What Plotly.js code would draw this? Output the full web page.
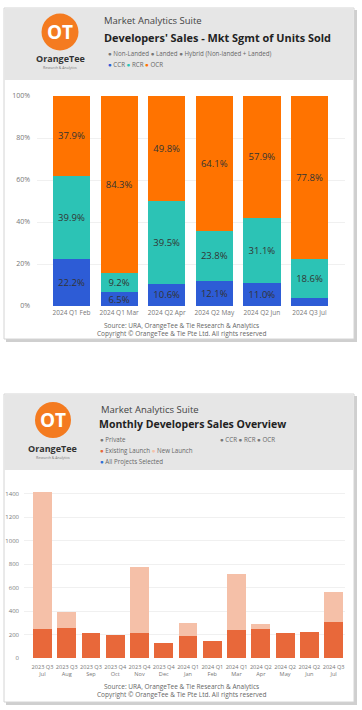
<!DOCTYPE html>
<html><head><meta charset="utf-8">
<script src="https://cdn.plot.ly/plotly-3.0.1.min.js"></script>
<style>html,body{margin:0;padding:0;background:#fff;}#chart{width:362px;height:710px;}</style>
</head><body><div id="chart"></div>
<script>
// ---- Top chart data ----
const topCategories = ['2024 Q1 Feb','2024 Q1 Mar','2024 Q2 Apr','2024 Q2 May','2024 Q2 Jun','2024 Q3 Jul'];
const ccrShare = [22.2, 6.5, 10.6, 12.1, 11.0, 3.6];
const rcrShare = [39.9, 9.2, 39.5, 23.8, 31.1, 18.6];
const ocrShare = [37.9, 84.3, 49.8, 64.1, 57.9, 77.8];
const topYTicks = [0, 20, 40, 60, 80, 100];
const topYTickLabels = ['0%','20%','40%','60%','80%','100%'];

// ---- Bottom chart data ----
const monthCategories = ['2023 Q3<br>Jul','2023 Q3<br>Aug','2023 Q3<br>Sep','2023 Q4<br>Oct','2023 Q4<br>Nov','2023 Q4<br>Dec','2024 Q1<br>Jan','2024 Q1<br>Feb','2024 Q1<br>Mar','2024 Q2<br>Apr','2024 Q2<br>May','2024 Q2<br>Jun','2024 Q3<br>Jul'];
const existingLaunch = [248, 255, 211, 200, 211, 131, 188, 148, 239, 248, 213, 222, 310];
const newLaunch = [1164, 135, 0, 0, 569, 0, 108, 0, 476, 45, 0, 0, 256];
const bottomYTicks = [0, 200, 400, 600, 800, 1000, 1200, 1400];

const W = 362, H = 710;
const X = p => p / W;
const Y = p => 1 - p / H;

const C_CCR = '#2D5CD6', C_RCR = '#2CC3B5', C_OCR = '#FF7300';
const C_EX = '#E8683A', C_NEW = '#F5C0A8';
const FONT = '"Open Sans", "Noto Sans", sans-serif';

const lbl = arr => arr.map(v => v >= 5 ? v.toFixed(1) + '%' : '');

function segTrace(vals, name, color) {
  return {
    type: 'bar', x: topCategories, y: vals, name: name,
    marker: {color: color, line: {width: 0}},
    text: lbl(vals), textposition: 'inside', insidetextanchor: 'middle',
    constraintext: 'none', textangle: 0,
    textfont: {family: FONT, size: 9.5, color: '#333333'},
    hoverinfo: 'skip', xaxis: 'x', yaxis: 'y', showlegend: false
  };
}

const traces = [
  segTrace(ccrShare, 'CCR', C_CCR),
  segTrace(rcrShare, 'RCR', C_RCR),
  segTrace(ocrShare, 'OCR', C_OCR),
  {type: 'bar', x: monthCategories, y: existingLaunch, name: 'Existing Launch',
   marker: {color: C_EX}, xaxis: 'x2', yaxis: 'y2', showlegend: false, hoverinfo: 'skip'},
  {type: 'bar', x: monthCategories, y: newLaunch, name: 'New Launch',
   marker: {color: C_NEW}, xaxis: 'x2', yaxis: 'y2', showlegend: false, hoverinfo: 'skip'}
];

function card(top, bottom, headerBottom) {
  return [
    {type: 'rect', xref: 'paper', yref: 'paper', layer: 'below',
     x0: X(6), x1: X(357), y0: Y(bottom + 3), y1: Y(top + 2),
     fillcolor: '#cfcfcf', line: {width: 0}},
    {type: 'rect', xref: 'paper', yref: 'paper', layer: 'below',
     x0: X(4), x1: X(354), y0: Y(bottom), y1: Y(top),
     fillcolor: '#ffffff', line: {color: '#d4d4d4', width: 1}},
    {type: 'rect', xref: 'paper', yref: 'paper', layer: 'below',
     x0: X(4.5), x1: X(353.5), y0: Y(headerBottom), y1: Y(top + 0.5),
     fillcolor: '#e6e6e6', line: {width: 0}}
  ];
}
function logoCircle(cx, cy, r) {
  return {type: 'circle', xref: 'paper', yref: 'paper', layer: 'below',
    x0: X(cx - r), x1: X(cx + r), y0: Y(cy + r), y1: Y(cy - r),
    fillcolor: '#F47B20', line: {width: 0}};
}

const shapes = [
  ...card(8, 339, 80),
  logoCircle(60, 32, 18.5),
  ...card(394, 702, 470),
  logoCircle(53, 420, 18)
];

function ann(x, y, text, size, color, opts) {
  return Object.assign({xref: 'paper', yref: 'paper', x: X(x), y: Y(y), text: text,
    showarrow: false, xanchor: 'left', yanchor: 'middle',
    font: {family: FONT, size: size, color: color}}, opts || {});
}
const dot = c => '<span style="color:' + c + '">●</span> ';

const annotations = [
  // top header
  ann(60, 32, '<b>OT</b>', 19, '#ffffff', {xanchor: 'center'}),
  ann(60, 58, '<b>OrangeTee</b>', 9, '#333333', {xanchor: 'center'}),
  ann(60, 67.5, 'Research & Analytics', 3.5, '#777777', {xanchor: 'center'}),
  ann(102, 21, 'Market Analytics Suite', 9.5, '#444444'),
  ann(102, 37, '<b>Developers\' Sales - Mkt Sgmt of Units Sold</b>', 10.9, '#222222'),
  ann(106, 53, dot('#777') + 'Non-Landed ' + dot('#777') + 'Landed ' + dot('#777') + 'Hybrid (Non-landed + Landed)', 6.2, '#666666'),
  ann(106, 65, dot(C_CCR) + 'CCR ' + dot(C_RCR) + 'RCR ' + dot(C_OCR) + 'OCR', 6.2, '#666666'),
  // top footer
  ann(181, 325, 'Source: URA, OrangeTee & Tie Research & Analytics', 6.5, '#666666', {xanchor: 'center'}),
  ann(181, 333, 'Copyright © OrangeTee & Tie Pte Ltd. All rights reserved', 6.5, '#666666', {xanchor: 'center'}),
  // bottom header
  ann(53, 420, '<b>OT</b>', 19, '#ffffff', {xanchor: 'center'}),
  ann(53, 448, '<b>OrangeTee</b>', 9, '#333333', {xanchor: 'center'}),
  ann(53, 457.5, 'Research & Analytics', 3.5, '#777777', {xanchor: 'center'}),
  ann(99, 409, 'Market Analytics Suite', 9.5, '#444444'),
  ann(97, 424, '<b>Monthly Developers Sales Overview</b>', 10.5, '#222222'),
  ann(98, 440, dot('#777') + 'Private', 6.2, '#666666'),
  ann(218, 440, dot('#777') + 'CCR ' + dot('#777') + 'RCR ' + dot('#777') + 'OCR', 6.2, '#666666'),
  ann(98, 450, dot(C_EX) + 'Existing Launch ' + dot(C_NEW) + 'New Launch', 6.2, '#666666'),
  ann(98, 461, dot('#2D6FD6') + 'All Projects Selected', 6.2, '#666666'),
  // bottom footer
  ann(181, 686, 'Source: URA, OrangeTee & Tie Research & Analytics', 6.5, '#666666', {xanchor: 'center'}),
  ann(181, 694, 'Copyright © OrangeTee & Tie Pte Ltd. All rights reserved', 6.5, '#666666', {xanchor: 'center'})
];

const layout = {
  width: W, height: H, margin: {l: 0, r: 0, t: 0, b: 0},
  paper_bgcolor: '#ffffff', plot_bgcolor: 'rgba(0,0,0,0)',
  barmode: 'stack', bargap: 0.22, showlegend: false,
  font: {family: FONT, color: '#666666'},
  xaxis: {domain: [X(37), X(345)], anchor: 'y', type: 'category',
    range: [-0.725, 5.745], showgrid: false, zeroline: false, showline: false,
    ticks: '', tickfont: {size: 6.5, color: '#777777'}, ticklabelstandoff: 1, fixedrange: true},
  yaxis: {domain: [Y(306), Y(96)], anchor: 'x', range: [0, 100],
    tickvals: topYTicks, ticktext: topYTickLabels, showgrid: true, gridcolor: '#f0f0f0',
    zeroline: false, showline: false, ticks: '', tickfont: {size: 7, color: '#777777'},
    ticklabelstandoff: 6, fixedrange: true},
  xaxis2: {domain: [X(24), X(345)], anchor: 'y2', type: 'category',
    range: [-0.76, 12.47], showgrid: false, zeroline: false, showline: false,
    ticks: '', tickfont: {size: 5.6, color: '#777777'}, tickangle: 0, ticklabelstandoff: 4, fixedrange: true},
  yaxis2: {domain: [Y(658), Y(488)], anchor: 'x2', range: [0, 1450],
    tickvals: bottomYTicks, showgrid: true, gridcolor: '#f0f0f0',
    zeroline: false, showline: false, ticks: '', tickfont: {size: 6, color: '#777777'},
    ticklabelstandoff: 4, fixedrange: true},
  shapes: shapes, annotations: annotations
};

Plotly.newPlot('chart', traces, layout, {displayModeBar: false, staticPlot: true});
</script></body></html>
